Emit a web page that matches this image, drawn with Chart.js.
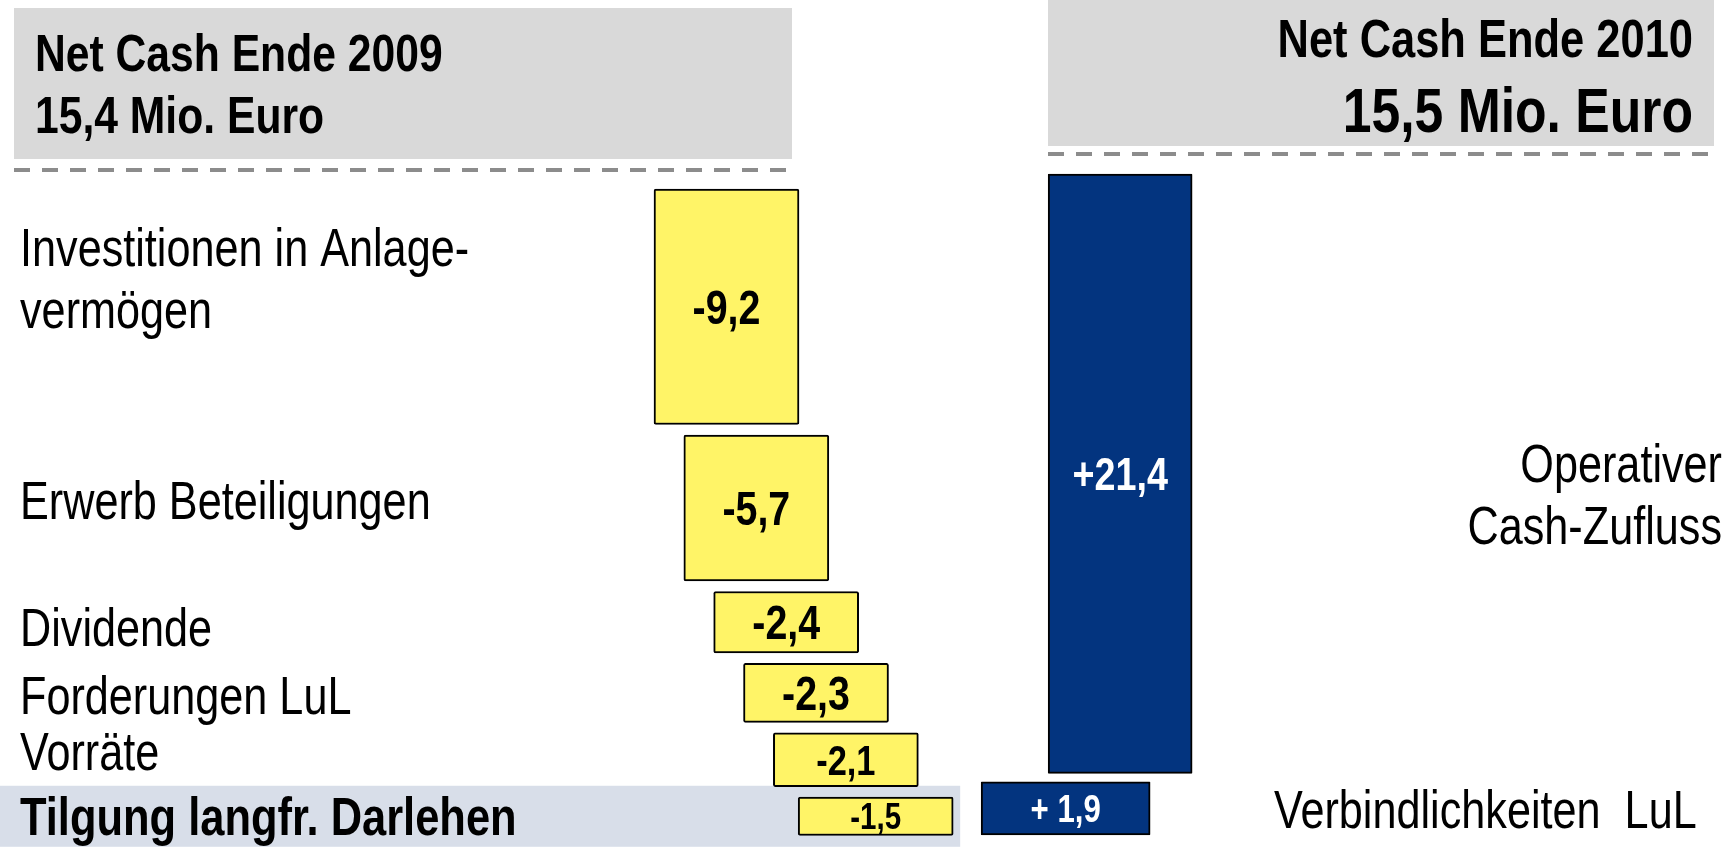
<!DOCTYPE html>
<html lang="de">
<head>
<meta charset="utf-8">
<title>Net Cash 2009 - 2010</title>
<script src="https://cdn.jsdelivr.net/npm/chart.js@4.4.1/dist/chart.umd.min.js"></script>
<style>
  html, body { margin: 0; padding: 0; background: #fff; }
  #wrap { position: relative; width: 1729px; height: 868px; }
</style>
</head>
<body>
<div id="wrap"><canvas id="cashChart"></canvas></div>
<script>
// Werte in Mio. Euro
const NET_CASH_2009 = 15.4;
const NET_CASH_2010 = 15.5;

const abflussLabels = [['Investitionen in Anlage-', 'vermögen'], ['Erwerb Beteiligungen'], ['Dividende'], ['Forderungen LuL'], ['Vorräte'], ['Tilgung langfr. Darlehen']];
const abflussWerte = [-9.2, -5.7, -2.4, -2.3, -2.1, -1.5];

const zuflussLabels = [['Verbindlichkeiten  LuL'], ['Operativer', 'Cash-Zufluss']];
const zuflussWerte = [1.9, 21.4];

// Darstellung
const GELB = '#FFF467';
const BLAU = '#03347F';
const FONT = '"Liberation Sans", Arial, sans-serif';
const NARROW = 0.82;              // Arial Narrow nachbilden
const GAP_OUT = 0.41, GAP_IN = 0.3;
const abflussBreite = [145, 145, 145, 145, 145, 155];
const abflussSchrift = [48, 48, 48, 48, 42, 36];
const abflussLabelDy = [-29, -8, 4, 2, -9, 0];
const zuflussBreite = [169, 144];
const zuflussSchrift = [38, 46];
const zuflussText = [{ x: 1274, align: 'left', dy: 0 }, { x: 1722, align: 'right', dy: 20 }];

const fmt = v => Math.abs(v).toLocaleString('de-DE', { minimumFractionDigits: 1, maximumFractionDigits: 1 });

// Wasserfall: Abflüsse von oben nach unten, Zuflüsse von unten nach oben
let level = NET_CASH_2009;
const abflussBars = abflussWerte.map((v, i) => {
    const top = level - i * GAP_OUT;
    level += v;
    return { x: i, y: [top + v, top] };
});
level = NET_CASH_2009 + abflussWerte.reduce((a, b) => a + b, 0);
const zuflussBars = zuflussWerte.map((v, i) => {
    const bottom = level + i * GAP_IN;
    level += v;
    return { x: i, y: [bottom, bottom + v] };
});

const datasets = [
    ...abflussWerte.map((v, i) => ({
        label: abflussLabels[i].join(' '),
        data: [abflussBars[i]],
        xAxisID: 'xOut', yAxisID: 'yOut',
        backgroundColor: GELB, borderColor: '#000', borderWidth: 2, borderRadius: 2,
        borderSkipped: false, grouped: false, barThickness: abflussBreite[i],
        _text: '-' + fmt(v), _size: abflussSchrift[i], _color: '#000', _lines: abflussLabels[i], _side: 'out', _idx: i
    })),
    ...zuflussWerte.map((v, i) => ({
        label: zuflussLabels[i].join(' '),
        data: [zuflussBars[i]],
        xAxisID: 'xIn', yAxisID: 'yIn',
        backgroundColor: BLAU, borderColor: '#000', borderWidth: 2, borderRadius: 1,
        borderSkipped: false, grouped: false, barThickness: zuflussBreite[i],
        _text: (v < 10 ? '+ ' : '+') + fmt(v), _size: zuflussSchrift[i], _color: '#fff', _lines: zuflussLabels[i], _side: 'in', _idx: i
    }))
];

function narrowText(ctx, text, x, y, size, weight, color, align, sx) {
    ctx.save();
    ctx.font = `${weight} ${size}px ${FONT}`;
    ctx.fillStyle = color;
    ctx.textAlign = align;
    ctx.textBaseline = 'alphabetic';
    ctx.translate(x, y);
    ctx.scale(sx || NARROW, 1);
    ctx.fillText(text, 0, 0);
    ctx.restore();
}

function dashed(ctx, x1, x2, y) {
    ctx.save();
    ctx.strokeStyle = '#8C8C8C';
    ctx.lineWidth = 4;
    ctx.setLineDash([16, 12]);
    ctx.beginPath();
    ctx.moveTo(x1, y);
    ctx.lineTo(x2, y);
    ctx.stroke();
    ctx.restore();
}

const kopfPlugin = {
    id: 'kopf',
    beforeDraw(chart) {
        const ctx = chart.ctx;
        ctx.fillStyle = '#D9D9D9';
        ctx.fillRect(14, 8, 778, 151);
        ctx.fillRect(1048, 0, 666, 146);
        dashed(ctx, 14, 792, 170);
        dashed(ctx, 1048, 1714, 154);
        narrowText(ctx, 'Net Cash Ende 2009', 35, 71, 52, 'bold', '#000', 'left');
        narrowText(ctx, fmt(NET_CASH_2009) + ' Mio. Euro', 35, 133, 52, 'bold', '#000', 'left');
        narrowText(ctx, 'Net Cash Ende 2010', 1693, 57, 53, 'bold', '#000', 'right');
        narrowText(ctx, fmt(NET_CASH_2010) + ' Mio. Euro', 1693, 132, 63, 'bold', '#000', 'right');
    },
    beforeDatasetsDraw(chart) {
        // Band hinter der Tilgung
        const ctx = chart.ctx;
        const el = chart.getDatasetMeta(abflussWerte.length - 1).data[0];
        const mid = (el.y + el.base) / 2;
        ctx.fillStyle = '#D8DEE9';
        ctx.fillRect(0, mid - 30.5, el.x + el.width / 2 + 7, 61);
    },
    afterDatasetsDraw(chart) {
        const ctx = chart.ctx;
        chart.data.datasets.forEach((ds, di) => {
            const el = chart.getDatasetMeta(di).data[0];
            const mid = (el.y + el.base) / 2;
            narrowText(ctx, ds._text, el.x, mid + ds._size * 0.358, ds._size, 'bold', ds._color, 'center');

            const last = ds._side === 'out' && ds._idx === abflussWerte.length - 1;
            const size = last ? 53 : 54;
            const lh = 62;
            const y0 = mid - (ds._lines.length - 1) * lh / 2 + size * 0.358;
            ds._lines.forEach((line, li) => {
                if (ds._side === 'out') {
                    narrowText(ctx, line, 20, y0 + abflussLabelDy[ds._idx] + li * lh, size,
                        last ? 'bold' : 'normal', '#000', 'left', last ? NARROW : 0.8);
                } else {
                    const t = zuflussText[ds._idx];
                    narrowText(ctx, line, t.x, y0 + t.dy + li * lh, size, 'normal', '#000', t.align, 0.8);
                }
            });
        });
    }
};

new Chart(document.getElementById('cashChart'), {
    type: 'bar',
    data: { datasets },
    options: {
        responsive: true,
        maintainAspectRatio: false,
        animation: false,
        layout: { padding: 0 },
        plugins: { legend: { display: false }, tooltip: { enabled: false } },
        scales: {
            xOut: { type: 'linear', axis: 'x', display: false, offset: false, min: -24.35, max: 33.60 },
            xIn: { type: 'linear', axis: 'x', display: false, offset: false, min: -19.55, max: 12.17 },
            yOut: { type: 'linear', axis: 'y', display: false, min: -11.12, max: 22.78 },
            yIn: { type: 'linear', axis: 'y', display: false, min: -8.979, max: 22.021 }
        }
    },
    plugins: [kopfPlugin]
});
</script>
</body>
</html>
